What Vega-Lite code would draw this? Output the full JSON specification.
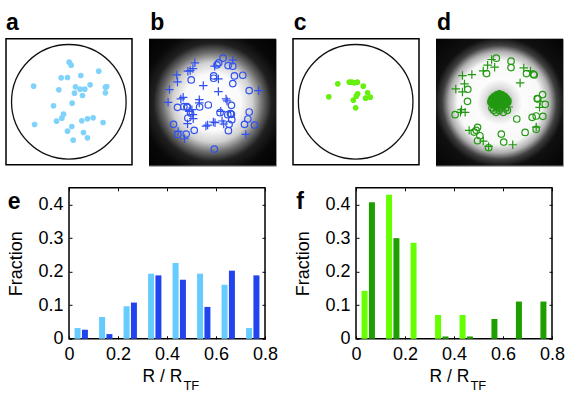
{"$schema":"https://vega.github.io/schema/vega-lite/v6.json","background":"white","padding":{"left":5,"top":10.8,"right":0,"bottom":0},"spacing":19,"config":{"font":"Liberation Sans","view":{"stroke":"black","strokeWidth":1.5},"axis":{"grid":false,"domain":false,"tickColor":"black","labelColor":"black","labelFont":"Liberation Sans","labelFontSize":18,"labelFlush":false}},
"datasets":{
"a":[{"x":207,"y":185},{"x":213,"y":194},{"x":296,"y":212},{"x":242,"y":225},{"x":183,"y":232},{"x":202,"y":231},{"x":100,"y":257},{"x":226,"y":259},{"x":240,"y":266},{"x":254,"y":266},{"x":270,"y":253},{"x":320,"y":258},{"x":316,"y":260},{"x":316,"y":277},{"x":176,"y":268},{"x":223,"y":278},{"x":247,"y":285},{"x":216,"y":308},{"x":160,"y":316},{"x":190,"y":341},{"x":185,"y":353},{"x":169,"y":362},{"x":245,"y":361},{"x":262,"y":355},{"x":279,"y":352},{"x":309,"y":366},{"x":103,"y":372},{"x":215,"y":378},{"x":202,"y":392},{"x":250,"y":396},{"x":262,"y":412},{"x":219,"y":419}],
"c":[{"x":155,"y":250},{"x":190,"y":245},{"x":197,"y":245},{"x":205,"y":247},{"x":214,"y":245},{"x":232,"y":257},{"x":245,"y":277},{"x":215,"y":280},{"x":211,"y":287},{"x":202,"y":299},{"x":253,"y":290},{"x":239,"y":293},{"x":128,"y":289},{"x":209,"y":322}],
"bO":[{"x":232,"y":66},{"x":219,"y":80},{"x":214,"y":86},{"x":247,"y":88},{"x":261,"y":90},{"x":137,"y":131},{"x":204,"y":119},{"x":204,"y":126},{"x":266,"y":119},{"x":291,"y":117},{"x":261,"y":142},{"x":310,"y":163},{"x":257,"y":207},{"x":188,"y":206},{"x":162,"y":212},{"x":96,"y":213},{"x":115,"y":211},{"x":124,"y":211},{"x":126,"y":213},{"x":135,"y":230},{"x":127,"y":245},{"x":223,"y":229},{"x":254,"y":232},{"x":246,"y":235},{"x":257,"y":234},{"x":258,"y":250},{"x":250,"y":264},{"x":248,"y":283},{"x":310,"y":227},{"x":306,"y":248},{"x":296,"y":264},{"x":326,"y":266},{"x":84,"y":264},{"x":97,"y":294},{"x":122,"y":293},{"x":146,"y":282},{"x":206,"y":338}],
"bP":[{"x":148,"y":80},{"x":142,"y":97},{"x":261,"y":72},{"x":207,"y":90},{"x":127,"y":105},{"x":134,"y":103},{"x":94,"y":116},{"x":96,"y":137},{"x":173,"y":148},{"x":218,"y":128},{"x":218,"y":166},{"x":72,"y":160},{"x":338,"y":163},{"x":68,"y":198},{"x":106,"y":188},{"x":113,"y":183},{"x":161,"y":190},{"x":161,"y":200},{"x":241,"y":188},{"x":244,"y":194},{"x":139,"y":220},{"x":131,"y":225},{"x":142,"y":235},{"x":143,"y":247},{"x":126,"y":262},{"x":181,"y":269},{"x":186,"y":266},{"x":203,"y":257},{"x":208,"y":259},{"x":229,"y":254},{"x":234,"y":263},{"x":225,"y":225},{"x":98,"y":285},{"x":117,"y":307},{"x":300,"y":294}],
"dO":[{"x":191,"y":66},{"x":235,"y":75},{"x":235,"y":94},{"x":162,"y":112},{"x":281,"y":112},{"x":302,"y":114},{"x":304,"y":116},{"x":106,"y":159},{"x":105,"y":195},{"x":329,"y":175},{"x":315,"y":188},{"x":337,"y":204},{"x":313,"y":187},{"x":330,"y":240},{"x":310,"y":239},{"x":298,"y":243},{"x":252,"y":248},{"x":68,"y":235},{"x":135,"y":273},{"x":125,"y":287},{"x":131,"y":282},{"x":142,"y":298},{"x":135,"y":313},{"x":168,"y":334},{"x":206,"y":293},{"x":213,"y":317},{"x":277,"y":288},{"x":310,"y":279},{"x":178,"y":215},{"x":190,"y":228},{"x":212,"y":228},{"x":224,"y":222},{"x":200,"y":222},{"x":183,"y":222},{"x":218,"y":215},{"x":204,"y":215},{"x":192,"y":215}],
"dB":[{"x":200,"y":172},{"x":192,"y":175},{"x":208,"y":175},{"x":184,"y":180},{"x":216,"y":180},{"x":178,"y":186},{"x":222,"y":186},{"x":226,"y":192},{"x":175,"y":192},{"x":174,"y":198},{"x":226,"y":198},{"x":180,"y":205},{"x":220,"y":205},{"x":188,"y":208},{"x":200,"y":208},{"x":212,"y":208},{"x":190,"y":198},{"x":200,"y":198},{"x":210,"y":198},{"x":195,"y":188},{"x":205,"y":188},{"x":200,"y":180},{"x":186,"y":190},{"x":214,"y":190},{"x":192,"y":182},{"x":208,"y":182},{"x":186,"y":200},{"x":214,"y":200},{"x":194,"y":192},{"x":206,"y":192},{"x":194,"y":204},{"x":206,"y":204}],
"dP":[{"x":177,"y":70},{"x":165,"y":87},{"x":186,"y":93},{"x":152,"y":104},{"x":90,"y":118},{"x":118,"y":115},{"x":273,"y":95},{"x":293,"y":104},{"x":262,"y":140},{"x":96,"y":143},{"x":70,"y":158},{"x":90,"y":167},{"x":87,"y":220},{"x":84,"y":228},{"x":98,"y":228},{"x":320,"y":213},{"x":322,"y":195},{"x":110,"y":282},{"x":152,"y":314},{"x":240,"y":325},{"x":168,"y":330},{"x":310,"y":272},{"x":228,"y":212},{"x":190,"y":210},{"x":206,"y":200},{"x":196,"y":186},{"x":212,"y":192}],
"e":[{"r":0.035,"f":0.032,"s":"L"},{"r":0.135,"f":0.065,"s":"L"},{"r":0.235,"f":0.097,"s":"L"},{"r":0.335,"f":0.194,"s":"L"},{"r":0.435,"f":0.226,"s":"L"},{"r":0.535,"f":0.194,"s":"L"},{"r":0.635,"f":0.161,"s":"L"},{"r":0.735,"f":0.032,"s":"L"},{"r":0.065,"f":0.027,"s":"D"},{"r":0.165,"f":0.014,"s":"D"},{"r":0.265,"f":0.108,"s":"D"},{"r":0.365,"f":0.189,"s":"D"},{"r":0.465,"f":0.176,"s":"D"},{"r":0.565,"f":0.095,"s":"D"},{"r":0.665,"f":0.203,"s":"D"},{"r":0.765,"f":0.189,"s":"D"}],
"f":[{"r":0.035,"f":0.143,"s":"L"},{"r":0.135,"f":0.429,"s":"L"},{"r":0.235,"f":0.286,"s":"L"},{"r":0.335,"f":0.071,"s":"L"},{"r":0.435,"f":0.071,"s":"L"},{"r":0.065,"f":0.407,"s":"D"},{"r":0.165,"f":0.3,"s":"D"},{"r":0.365,"f":0.007,"s":"D"},{"r":0.465,"f":0.007,"s":"D"},{"r":0.565,"f":0.059,"s":"D"},{"r":0.665,"f":0.111,"s":"D"},{"r":0.765,"f":0.111,"s":"D"}]
},
"vconcat":[
{"hconcat":[
{"width":126,"height":126,"data":{"name":"a"},"encoding":{"x":{"field":"x","type":"quantitative","scale":{"domain":[17,396]},"axis":null},"y":{"field":"y","type":"quantitative","scale":{"domain":[493,115]},"axis":null}},"layer":[
{"data":{"values":[{"x":206,"y":304}]},"mark":{"type":"point","shape":"circle","size":13133,"filled":false,"stroke":"#111","strokeWidth":1.3,"opacity":1}},
{"mark":{"type":"point","shape":"circle","filled":true,"size":32,"color":"#7fd3fb","opacity":1}},
{"data":{"values":[{"x":17,"y":88,"t":"a"}]},"mark":{"type":"text","align":"left","baseline":"alphabetic","fontSize":23,"fontWeight":"bold","color":"black"},"encoding":{"text":{"field":"t"}}}
]},
{"width":127,"height":127,"view":{"stroke":"#999","strokeWidth":1},"encoding":{"x":{"field":"x","type":"quantitative","scale":{"domain":[11,390]},"axis":null},"y":{"field":"y","type":"quantitative","scale":{"domain":[388,8]},"axis":null}},"layer":[
{"data":{"values":[{"x":11,"x2":390,"y":8,"y2":388}]},"mark":{"type":"rect","color":{"gradient":"radial","x1":0.5,"y1":0.5,"r1":0,"x2":0.5,"y2":0.5,"r2":0.75,"stops":[{"offset":0,"color":"#ffffff"},{"offset":0.3,"color":"#fafafa"},{"offset":0.42,"color":"#d0d0d0"},{"offset":0.52,"color":"#707070"},{"offset":0.62,"color":"#202020"},{"offset":0.75,"color":"#080808"},{"offset":1,"color":"#000000"}]}},"encoding":{"x2":{"field":"x2"},"y2":{"field":"y2"}}},
{"data":{"name":"bO"},"mark":{"type":"point","shape":"circle","size":42,"filled":false,"stroke":"#3050f0","strokeWidth":1.2,"opacity":1}},
{"data":{"name":"bP"},"mark":{"type":"point","shape":"M-1,0H1M0,-1V1","size":72,"filled":false,"stroke":"#3050f0","strokeWidth":1.2,"opacity":1}},
{"data":{"values":[{"x":15,"y":-18,"t":"b"}]},"mark":{"type":"text","align":"left","baseline":"alphabetic","fontSize":23,"fontWeight":"bold","color":"black"},"encoding":{"text":{"field":"t"}}}
]},
{"width":126,"height":126,"data":{"name":"c"},"encoding":{"x":{"field":"x","type":"quantitative","scale":{"domain":[20,400]},"axis":null},"y":{"field":"y","type":"quantitative","scale":{"domain":[493,115]},"axis":null}},"layer":[
{"data":{"values":[{"x":209,"y":304}]},"mark":{"type":"point","shape":"circle","size":13133,"filled":false,"stroke":"#111","strokeWidth":1.3,"opacity":1}},
{"mark":{"type":"point","shape":"circle","filled":true,"size":32,"color":"#66f010","opacity":1}},
{"data":{"values":[{"x":22,"y":88,"t":"c"}]},"mark":{"type":"text","align":"left","baseline":"alphabetic","fontSize":23,"fontWeight":"bold","color":"black"},"encoding":{"text":{"field":"t"}}}
]},
{"width":127,"height":127,"view":{"stroke":"#999","strokeWidth":1},"encoding":{"x":{"field":"x","type":"quantitative","scale":{"domain":[11,390]},"axis":null},"y":{"field":"y","type":"quantitative","scale":{"domain":[388,8]},"axis":null}},"layer":[
{"data":{"values":[{"x":11,"x2":390,"y":8,"y2":388}]},"mark":{"type":"rect","color":{"gradient":"radial","x1":0.5,"y1":0.5,"r1":0,"x2":0.5,"y2":0.5,"r2":0.75,"stops":[{"offset":0,"color":"#808080"},{"offset":0.16,"color":"#e0e0e0"},{"offset":0.24,"color":"#fcfcfc"},{"offset":0.44,"color":"#f8f8f8"},{"offset":0.53,"color":"#b0b0b0"},{"offset":0.6,"color":"#404040"},{"offset":0.68,"color":"#101010"},{"offset":1,"color":"#000000"}]}},"encoding":{"x2":{"field":"x2"},"y2":{"field":"y2"}}},
{"data":{"name":"dO"},"mark":{"type":"point","shape":"circle","size":42,"filled":false,"stroke":"#229911","strokeWidth":1.2,"opacity":1}},
{"data":{"name":"dB"},"mark":{"type":"point","shape":"circle","size":50,"filled":true,"color":"#229911","opacity":1}},
{"data":{"name":"dP"},"mark":{"type":"point","shape":"M-1,0H1M0,-1V1","size":72,"filled":false,"stroke":"#229911","strokeWidth":1.2,"opacity":1}},
{"data":{"values":[{"x":14,"y":-18,"t":"d"}]},"mark":{"type":"text","align":"left","baseline":"alphabetic","fontSize":23,"fontWeight":"bold","color":"black"},"encoding":{"text":{"field":"t"}}}
]}
],"bounds":"flush","spacing":17},
{"hconcat":[
{"width":63,"height":20,"view":{"stroke":null},"data":{"values":[]},"mark":{"type":"text"},"encoding":{}},
{"width":196,"height":151,"resolve":{"axis":{"x":"independent","y":"independent"}},"layer":[
{"data":{"name":"e"},"mark":{"type":"bar","size":6},"encoding":{"x":{"field":"r","type":"quantitative","scale":{"domain":[0,0.8],"padding":0},"axis":{"values":[0,0.2,0.4,0.6,0.8],"format":"~g","tickSize":-3,"labelPadding":10,"title":null,"orient":"bottom"}},"y":{"field":"f","type":"quantitative","scale":{"domain":[0,0.45]},"axis":{"values":[0,0.1,0.2,0.3,0.4],"format":"~g","tickSize":-3,"labelPadding":9,"title":"Fraction","titleFontSize":18,"titleFontWeight":"normal","titleFont":"Liberation Sans","titlePadding":12,"orient":"left"}},"color":{"field":"s","type":"nominal","scale":{"domain":["L","D"],"range":["#66ccff","#2244ee"]},"legend":null}}},
{"data":{"name":"e"},"mark":{"type":"bar","size":6,"opacity":0},"encoding":{"x":{"field":"r","type":"quantitative","axis":{"values":[0,0.2,0.4,0.6,0.8],"tickSize":-3,"labels":false,"title":null,"orient":"top"}},"y":{"field":"f","type":"quantitative","axis":{"values":[0,0.1,0.2,0.3,0.4],"tickSize":-3,"labels":false,"title":null,"orient":"right"}}}},
{"data":{"values":[{"r":0.3,"f":-0.1276,"t":"R / R"}]},"mark":{"type":"text","align":"left","baseline":"alphabetic","fontSize":17.5,"color":"black"},"encoding":{"x":{"field":"r","type":"quantitative","axis":null},"y":{"field":"f","type":"quantitative","axis":null},"text":{"field":"t"}}},
{"data":{"values":[{"r":0.467,"f":-0.1515,"t":"TF"}]},"mark":{"type":"text","align":"left","baseline":"alphabetic","fontSize":13,"color":"black"},"encoding":{"x":{"field":"r","type":"quantitative","axis":null},"y":{"field":"f","type":"quantitative","axis":null},"text":{"field":"t"}}},
{"data":{"values":[{"r":-0.25,"f":0.386,"t":"e"}]},"mark":{"type":"text","align":"left","baseline":"alphabetic","fontSize":23,"fontWeight":"bold","color":"black"},"encoding":{"x":{"field":"r","type":"quantitative","axis":null},"y":{"field":"f","type":"quantitative","axis":null},"text":{"field":"t"}}}
]},
{"width":91,"height":20,"view":{"stroke":null},"data":{"values":[]},"mark":{"type":"text"},"encoding":{}},
{"width":196,"height":151,"resolve":{"axis":{"x":"independent","y":"independent"}},"layer":[
{"data":{"name":"f"},"mark":{"type":"bar","size":6},"encoding":{"x":{"field":"r","type":"quantitative","scale":{"domain":[0,0.8],"padding":0},"axis":{"values":[0,0.2,0.4,0.6,0.8],"format":"~g","tickSize":-3,"labelPadding":10,"title":null,"orient":"bottom"}},"y":{"field":"f","type":"quantitative","scale":{"domain":[0,0.45]},"axis":{"values":[0,0.1,0.2,0.3,0.4],"format":"~g","tickSize":-3,"labelPadding":9,"title":"Fraction","titleFontSize":18,"titleFontWeight":"normal","titleFont":"Liberation Sans","titlePadding":12,"orient":"left"}},"color":{"field":"s","type":"nominal","scale":{"domain":["L","D"],"range":["#66ff00","#1f9e00"]},"legend":null}}},
{"data":{"name":"f"},"mark":{"type":"bar","size":6,"opacity":0},"encoding":{"x":{"field":"r","type":"quantitative","axis":{"values":[0,0.2,0.4,0.6,0.8],"tickSize":-3,"labels":false,"title":null,"orient":"top"}},"y":{"field":"f","type":"quantitative","axis":{"values":[0,0.1,0.2,0.3,0.4],"tickSize":-3,"labels":false,"title":null,"orient":"right"}}}},
{"data":{"values":[{"r":0.3,"f":-0.1276,"t":"R / R"}]},"mark":{"type":"text","align":"left","baseline":"alphabetic","fontSize":17.5,"color":"black"},"encoding":{"x":{"field":"r","type":"quantitative","axis":null},"y":{"field":"f","type":"quantitative","axis":null},"text":{"field":"t"}}},
{"data":{"values":[{"r":0.467,"f":-0.1515,"t":"TF"}]},"mark":{"type":"text","align":"left","baseline":"alphabetic","fontSize":13,"color":"black"},"encoding":{"x":{"field":"r","type":"quantitative","axis":null},"y":{"field":"f","type":"quantitative","axis":null},"text":{"field":"t"}}},
{"data":{"values":[{"r":-0.244,"f":0.386,"t":"f"}]},"mark":{"type":"text","align":"left","baseline":"alphabetic","fontSize":23,"fontWeight":"bold","color":"black"},"encoding":{"x":{"field":"r","type":"quantitative","axis":null},"y":{"field":"f","type":"quantitative","axis":null},"text":{"field":"t"}}}
]}
],"bounds":"flush","spacing":0,"resolve":{"scale":{"color":"independent"}}}
]}
